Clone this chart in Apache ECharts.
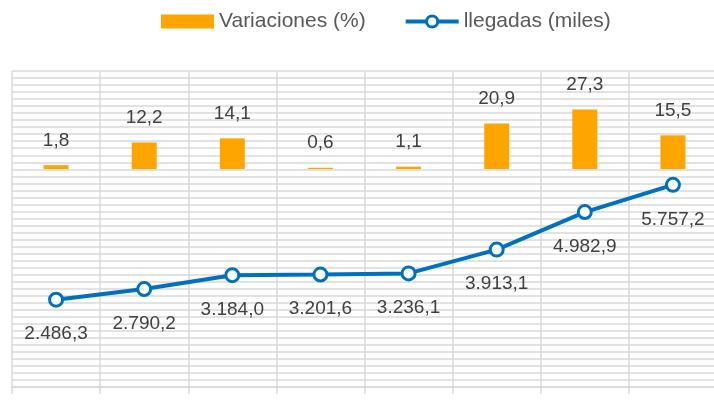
<!DOCTYPE html>
<html>
<head>
<meta charset="utf-8">
<script src="https://cdn.jsdelivr.net/npm/echarts@6/dist/echarts.min.js"></script>
<style>
  html, body { margin: 0; padding: 0; background: #fff; }
  #chart { width: 714px; height: 409px; }
</style>
</head>
<body>
<div id="chart"></div>
<script>
var categorias = ['P1', 'P2', 'P3', 'P4', 'P5', 'P6', 'P7', 'P8'];
var variaciones = [1.8, 12.2, 14.1, 0.6, 1.1, 20.9, 27.3, 15.5];
var llegadas = [2486.3, 2790.2, 3184.0, 3201.6, 3236.1, 3913.1, 4982.9, 5757.2];

function fmt(v) {
  var parts = v.toFixed(1).split('.');
  parts[0] = parts[0].replace(/\B(?=(\d{3})+(?!\d))/g, '.');
  return parts[0] + ',' + parts[1];
}

var chart = echarts.init(document.getElementById('chart'));
var gris = '#d9d9d9';
var azul = '#0070C0';
var fuente = 'Liberation Sans';

var option = {
  animation: false,
  textStyle: { fontFamily: fuente },
  legend: {
    left: 156,
    top: 6,
    itemWidth: 53,
    itemHeight: 14,
    itemGap: 38,
    textStyle: { fontSize: 21, color: '#595959', fontFamily: fuente },
    data: [
      { name: 'Variaciones (%)', icon: 'rect' },
      {
        name: 'llegadas (miles)',
        lineStyle: { width: 4, color: azul },
        itemStyle: { color: '#ffffff', borderColor: azul, borderWidth: 3 }
      }
    ]
  },
  grid: { left: 12, width: 705, top: 71, bottom: 22, outerBoundsMode: 'none' },
  xAxis: {
    type: 'category',
    data: categorias,
    axisLabel: { show: false },
    axisLine: { lineStyle: { color: gris, width: 1.5 } },
    axisTick: { show: true, length: 7, lineStyle: { color: gris, width: 1.5 } },
    splitLine: { show: true, lineStyle: { color: gris, width: 1.5 } }
  },
  yAxis: [
    {
      type: 'value',
      min: 0,
      max: 9000,
      interval: 200,
      axisLabel: { show: false },
      axisLine: { show: false },
      axisTick: { show: false },
      splitLine: { show: true, lineStyle: { color: gris, width: 1.5 } }
    },
    {
      type: 'value',
      min: -100,
      max: 45,
      show: false,
      splitLine: { show: false }
    }
  ],
  series: [
    {
      name: 'Variaciones (%)',
      type: 'bar',
      yAxisIndex: 1,
      data: variaciones,
      barWidth: 25,
      itemStyle: { color: '#FFA500' },
      label: {
        show: true,
        position: 'top',
        distance: 15,
        fontSize: 19,
        color: '#404040',
        fontFamily: fuente,
        formatter: function (p) { return fmt(p.value); }
      }
    },
    {
      name: 'llegadas (miles)',
      type: 'line',
      yAxisIndex: 0,
      data: llegadas,
      symbol: 'circle',
      symbolSize: 13,
      lineStyle: { color: azul, width: 4 },
      itemStyle: { color: '#ffffff', borderColor: azul, borderWidth: 3 },
      label: {
        show: true,
        position: 'bottom',
        distance: 17,
        fontSize: 19,
        color: '#404040',
        fontFamily: fuente,
        formatter: function (p) { return fmt(p.value); }
      }
    }
  ]
};

chart.setOption(option);
</script>
</body>
</html>
